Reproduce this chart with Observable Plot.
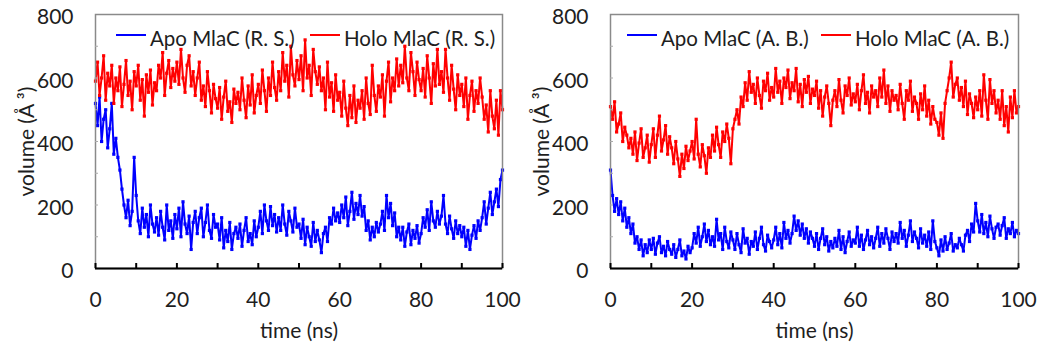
<!DOCTYPE html>
<html><head>
<meta charset="utf-8">
<script src="https://cdn.jsdelivr.net/npm/d3@7"></script>
<script src="https://cdn.jsdelivr.net/npm/@observablehq/plot@0.6"></script>
<style>
body{margin:0;background:#fff;font-family:Lato,sans-serif;}
#wrap{position:relative;width:1038px;height:348px;overflow:hidden;}
.panel{position:absolute;top:0;}
.panel svg{overflow:visible;}
.leg{position:absolute;top:26px;font-size:20.5px;color:#1e1e1e;white-space:nowrap;line-height:24px;}
.sw{position:absolute;height:2px;top:34px;}
</style>
</head><body>
<div id="wrap"></div>
<script>
const seriesNames = ["Apo MlaC (R. S.)", "Holo MlaC (R. S.)", "Apo MlaC (A. B.)", "Holo MlaC (A. B.)"];
const colors = ["#0000ff", "#ff0000"];
const yTicks = [0, 200, 400, 600, 800];
const xTicks = [0, 20, 40, 60, 80, 100];
const time = d3.range(0, 100.25, 0.5);

const holoRS = [
590,650,545,600,670,530,615,575,640,520,
600,560,635,510,580,655,545,590,500,620,
575,640,530,595,480,610,555,625,515,585,
560,640,600,680,545,615,655,570,630,590,
650,580,690,600,555,640,670,575,620,545,
600,650,530,575,510,620,560,490,580,535,
505,570,470,540,590,495,525,460,565,520,
555,500,600,530,475,575,515,610,490,545,
580,520,625,560,495,600,545,650,570,530,
620,560,680,590,640,540,700,610,575,655,
595,670,560,720,600,640,545,690,620,580,
635,560,600,500,650,540,585,495,610,530,
555,480,590,505,450,545,475,575,460,530,
505,560,470,600,520,485,640,545,495,575,
540,610,480,590,650,525,600,560,660,575,
640,585,700,600,560,680,620,545,650,595,
560,630,540,670,600,520,645,575,690,580,
620,555,690,600,530,640,565,500,610,545,
580,510,600,470,545,590,495,560,520,600,
540,470,515,430,560,480,440,530,420,560,
500];
const apoRS = [
520,450,540,400,470,500,380,440,520,360,
410,350,310,250,200,160,215,135,180,350,
230,150,110,190,130,170,100,200,140,115,
160,105,180,130,90,200,120,150,95,170,
125,190,100,210,140,110,165,60,145,180,
110,160,190,100,145,200,120,95,170,130,
140,90,160,65,120,85,145,60,110,130,
95,140,70,120,160,85,110,75,150,100,
130,180,110,200,150,120,195,135,170,115,
160,120,200,140,105,180,150,115,190,130,
140,95,155,75,130,100,70,145,85,120,
90,50,110,130,85,160,140,190,150,175,
145,200,160,225,135,180,240,155,205,170,
230,165,195,120,150,90,130,100,145,115,
140,180,120,230,160,205,135,175,100,130,
90,130,70,115,140,75,120,95,135,80,
110,160,130,185,120,210,150,130,180,140,
165,230,140,110,165,125,95,150,110,135,
100,130,70,120,60,105,135,95,150,120,
160,210,140,190,240,170,210,250,195,280,
310];
const holoAB = [
510,470,525,430,455,490,400,445,420,380,
410,360,430,340,395,440,350,380,420,335,
390,440,350,420,480,370,405,450,360,415,
380,330,400,345,290,360,315,385,340,370,
400,345,470,360,320,390,355,300,380,350,
420,370,445,390,350,430,400,455,410,330,
440,470,500,455,540,510,585,530,620,555,
580,520,600,545,505,590,560,615,530,570,
540,630,555,590,520,600,570,625,535,585,
560,630,525,580,510,595,555,605,520,565,
545,590,505,560,480,540,575,520,450,530,
560,510,595,530,490,575,545,600,515,550,
525,580,500,560,610,520,555,490,575,540,
560,510,600,540,625,520,575,495,560,530,
545,500,580,520,470,560,530,590,495,540,
520,470,550,500,575,480,530,455,510,470,
460,420,490,410,520,560,600,650,540,580,
600,530,570,510,590,485,550,520,475,540,
500,560,480,610,530,470,595,520,560,490,
530,470,560,450,510,430,540,475,560,490,
510];
const apoAB = [
310,230,180,220,170,210,150,190,130,160,
110,140,80,100,60,90,40,75,50,90,
60,95,45,80,100,50,70,40,85,60,
45,75,35,60,90,40,55,30,70,50,
65,110,80,130,70,100,140,85,120,75,
100,70,155,90,110,60,130,85,65,115,
90,60,110,75,50,125,80,95,45,85,
70,115,60,95,130,75,55,105,85,65,
90,130,75,110,65,145,95,120,80,110,
165,120,150,105,140,95,125,80,115,95,
70,110,60,95,125,75,100,55,85,65,
95,70,120,60,100,50,85,115,70,90,
80,130,70,105,60,90,120,75,100,65,
95,130,70,110,80,125,95,60,115,85,
110,80,145,95,120,70,105,150,85,115,
95,65,125,80,105,70,115,60,150,85,
65,40,90,55,100,60,80,110,55,75,
65,95,75,55,105,120,85,140,115,205,
150,115,170,110,145,100,165,125,95,130,
140,105,135,160,95,125,110,145,100,120,
110];

function rows(apo, holo, apoName, holoName) {
  const out = [];
  time.forEach((t, i) => out.push({t, v: apo[i], s: apoName}));
  time.forEach((t, i) => out.push({t, v: holo[i], s: holoName}));
  return out;
}

function panel(data, names, w, mL, mR) {
  return Plot.plot({
    width: w, height: 348,
    marginLeft: mL, marginRight: mR, marginTop: 14, marginBottom: 80,
    style: {fontFamily: "Lato, sans-serif", fontSize: "20px", color: "#1e1e1e", background: "transparent", overflow: "visible"},
    x: {domain: [0, 100]},
    y: {domain: [0, 800]},
    color: {domain: names, range: colors},
    marks: [
      Plot.line(data, {x: "t", y: "v", z: "s", stroke: "s", strokeWidth: 2}),
      Plot.dot(data, {x: "t", y: "v", fill: "s", symbol: "square", r: 1.8, stroke: null}),
      Plot.frame({stroke: "#8a8a8a", strokeWidth: 1.5}),
      Plot.axisY({ticks: [100, 200, 300, 400, 500, 600, 700], tickSize: -3, tickFormat: () => "", stroke: "#aaa", label: null}),
      Plot.axisY({ticks: yTicks, tickSize: 0, tickPadding: 22, dy: 3, label: "volume (Å ³)", labelAnchor: "center", labelArrow: "none", labelOffset: 76, fontSize: 21}),
      Plot.axisX({ticks: xTicks, tickSize: 0, tickPadding: 24, label: "time (ns)", labelAnchor: "center", labelArrow: "none", labelOffset: 69, fontSize: 21}),
      Plot.axisX({ticks: d3.range(0, 101, 10), tickSize: -5, tickFormat: () => "", stroke: "#000", strokeWidth: 2, label: null}),
      Plot.ruleY([0], {stroke: "#000", strokeWidth: 2})
    ]
  });
}

const wrap = document.getElementById("wrap");
function addPanel(left, w, mL, mR, apo, holo, apoName, holoName, leg) {
  const d = document.createElement("div");
  d.className = "panel"; d.style.left = left + "px";
  d.appendChild(panel(rows(apo, holo, apoName, holoName), [apoName, holoName], w, mL, mR));
  wrap.appendChild(d);
  [[apoName, colors[0], leg[0], leg[1]], [holoName, colors[1], leg[2], leg[3]]].forEach(([name, c, x0, tx]) => {
    const sw = document.createElement("div");
    sw.className = "sw"; sw.style.left = x0 + "px"; sw.style.width = "30px"; sw.style.background = c;
    wrap.appendChild(sw);
    const t = document.createElement("div");
    t.className = "leg"; t.style.left = tx + "px"; t.textContent = name;
    wrap.appendChild(t);
  });
}
addPanel(0, 518, 95, 16, apoRS, holoRS, seriesNames[0], seriesNames[1], [116, 150, 310, 344]);
addPanel(518, 520, 92, 20, apoAB, holoAB, seriesNames[2], seriesNames[3], [627, 661, 821, 855]);
</script>
</body></html>
